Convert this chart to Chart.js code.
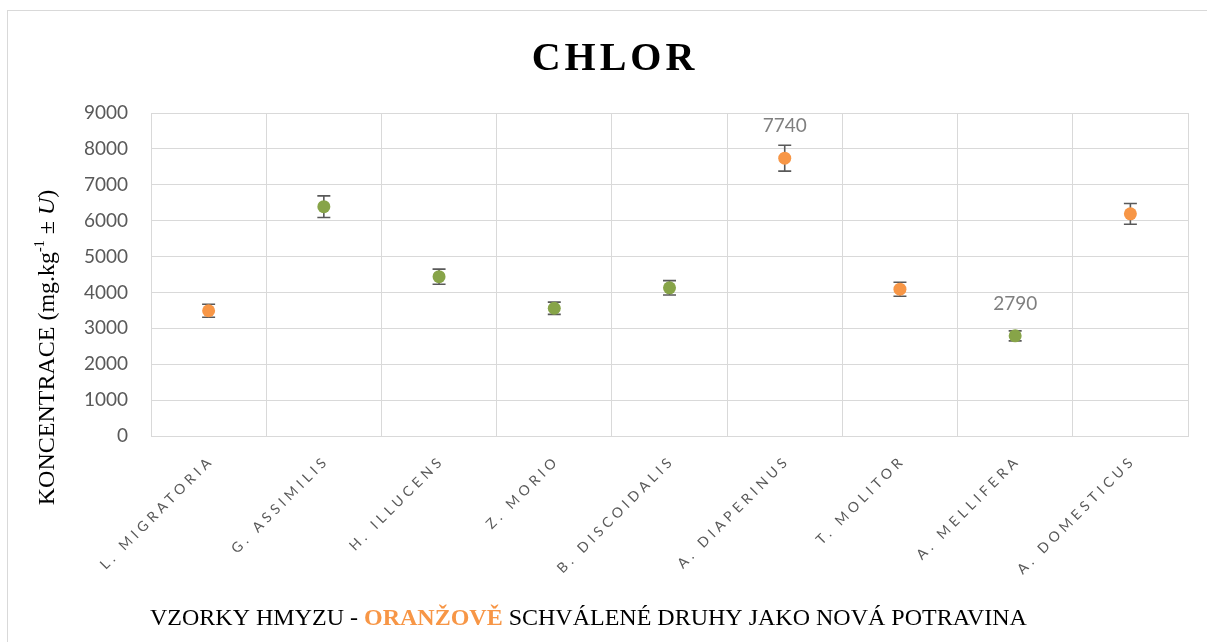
<!DOCTYPE html>
<html><head><meta charset="utf-8">
<script src="https://cdn.jsdelivr.net/npm/chart.js@4.4.1/dist/chart.umd.min.js"></script>
<style>
html,body{margin:0;padding:0;background:#fff;overflow:hidden;}
#wrap{position:relative;width:1207px;height:642px;overflow:hidden;}
#frame{position:absolute;left:7px;top:10px;width:1300px;height:700px;border-left:1.5px solid #d9d9d9;border-top:1.5px solid #d9d9d9;}
canvas{position:absolute;left:0;top:0;}
</style></head><body>
<div id="wrap"><div id="frame"></div><canvas id="c" width="1207" height="642"></canvas></div>
<script>
// ---- data ----
const categories = ['L. MIGRATORIA','G. ASSIMILIS','H. ILLUCENS','Z. MORIO','B. DISCOIDALIS','A. DIAPERINUS','T. MOLITOR','A. MELLIFERA','A. DOMESTICUS'];
const values = [3490, 6390, 4440, 3560, 4130, 7740, 4090, 2790, 6190];
const uncertainty = [180, 300, 210, 170, 200, 360, 195, 140, 290];
const approved = [true, false, false, false, false, true, true, false, true];
const showValueLabel = [false, false, false, false, false, true, false, true, false];
const yMin = 0, yMax = 9000, yStep = 1000;

const chartTitle = 'CHLOR';
const yTitleParts = ['KONCENTRACE (mg.kg', '-1', ' \u00B1 ', 'U', ')'];
const xTitleParts = ['VZORKY HMYZU - ', 'ORAN\u017DOV\u011A', ' SCHV\u00C1LEN\u00C9 DRUHY JAKO NOV\u00C1 POTRAVINA'];

const ORANGE = '#F79646';
const GREEN = '#87A448';
const GRID = '#d9d9d9';

const errorBars = {
  id: 'errorBars',
  beforeDatasetsDraw(chart) {
    const ctx = chart.ctx, ys = chart.scales.y;
    const meta = chart.getDatasetMeta(0);
    ctx.save();
    ctx.strokeStyle = '#595959';
    ctx.lineWidth = 1.6;
    meta.data.forEach((pt, i) => {
      const x = pt.x;
      const yt = ys.getPixelForValue(values[i] + uncertainty[i]);
      const yb = ys.getPixelForValue(values[i] - uncertainty[i]);
      ctx.beginPath();
      ctx.moveTo(x, yt); ctx.lineTo(x, yb);
      ctx.moveTo(x - 6.5, yt); ctx.lineTo(x + 6.5, yt);
      ctx.moveTo(x - 6.5, yb); ctx.lineTo(x + 6.5, yb);
      ctx.stroke();
    });
    ctx.restore();
  }
};

const spacedLabels = {
  id: 'spacedLabels',
  beforeDraw(chart) {
    const sc = chart.scales.x;
    if (sc && !sc._spaced) {
      const orig = sc.drawLabels;
      sc.drawLabels = function(area) {
        const c = this.ctx;
        c.save();
        c.letterSpacing = '4.2px';
        c.translate(3, 0);
        orig.call(this, area);
        c.restore();
      };
      sc._spaced = true;
    }
  }
};

const texts = {
  id: 'texts',
  afterDraw(chart) {
    const ctx = chart.ctx;
    const meta = chart.getDatasetMeta(0);
    ctx.save();
    // title
    ctx.font = 'bold 40px "Liberation Serif", "Times New Roman", serif';
    ctx.letterSpacing = '4px';
    ctx.fillStyle = '#000';
    ctx.textBaseline = 'alphabetic';
    ctx.textAlign = 'left';
    let w = ctx.measureText(chartTitle).width - 4;
    ctx.fillText(chartTitle, 613 - w / 2, 69.5);
    ctx.letterSpacing = '0px';

    // value labels
    ctx.font = '19px Lato, "Open Sans", sans-serif';
    ctx.fillStyle = '#7f7f7f';
    ctx.textAlign = 'center';
    ctx.textBaseline = 'middle';
    meta.data.forEach((pt, i) => {
      if (showValueLabel[i]) ctx.fillText(String(values[i]), pt.x, pt.y - 32);
    });

    // y title (rotated)
    const serif = '"Liberation Serif", "Times New Roman", serif';
    const fonts = ['24px ' + serif, '14px ' + serif, '24px ' + serif, 'italic 24px ' + serif, '24px ' + serif];
    const rise = [0, -10, 0, 0, 0];
    let widths = yTitleParts.map((t, i) => { ctx.font = fonts[i]; return ctx.measureText(t).width; });
    let total = widths.reduce((a, b) => a + b, 0);
    ctx.save();
    ctx.translate(53.5, 347.5);
    ctx.rotate(-Math.PI / 2);
    ctx.textAlign = 'left';
    ctx.textBaseline = 'alphabetic';
    ctx.fillStyle = '#000';
    let x = -total / 2;
    yTitleParts.forEach((t, i) => {
      ctx.font = fonts[i];
      ctx.fillText(t, x, rise[i]);
      x += widths[i];
    });
    ctx.restore();

    // x title
    const xf = ['24px ' + serif, 'bold 24px ' + serif, '24px ' + serif];
    const xc = ['#000', ORANGE, '#000'];
    ctx.textAlign = 'left';
    ctx.textBaseline = 'alphabetic';
    let xx = 150;
    xTitleParts.forEach((t, i) => {
      ctx.font = xf[i];
      ctx.fillStyle = xc[i];
      ctx.fillText(t, xx, 625);
      xx += ctx.measureText(t).width;
    });
    ctx.restore();
  }
};

new Chart(document.getElementById('c'), {
  type: 'line',
  data: {
    labels: categories,
    datasets: [{
      data: values,
      showLine: false,
      pointRadius: 6.5,
      pointHoverRadius: 6.5,
      pointBorderWidth: 0,
      pointBackgroundColor: approved.map(a => a ? ORANGE : GREEN),
      borderColor: 'rgba(0,0,0,0)'
    }]
  },
  options: {
    responsive: false,
    animation: false,
    devicePixelRatio: 1,
    events: [],
    layout: { padding: { top: 113, right: 19, left: 0, bottom: 0 } },
    plugins: { legend: { display: false }, title: { display: false }, tooltip: { enabled: false } },
    scales: {
      x: {
        type: 'category',
        offset: true,
        grid: { offset: true, color: GRID, lineWidth: 1, drawTicks: false },
        border: { color: GRID },
        ticks: { minRotation: 45, maxRotation: 45, padding: 16, color: '#595959', font: { family: 'Lato', size: 14 } },
        afterFit(s) { s.height = 206; }
      },
      y: {
        min: yMin, max: yMax,
        ticks: { stepSize: yStep, padding: 23, color: '#595959', font: { family: 'Lato', size: 19 }, callback: v => String(v) },
        grid: { color: GRID, lineWidth: 1, drawTicks: false },
        border: { color: GRID },
        afterFit(s) { s.width = 151; }
      }
    }
  },
  plugins: [spacedLabels, errorBars, texts]
});
</script>
</body></html>
